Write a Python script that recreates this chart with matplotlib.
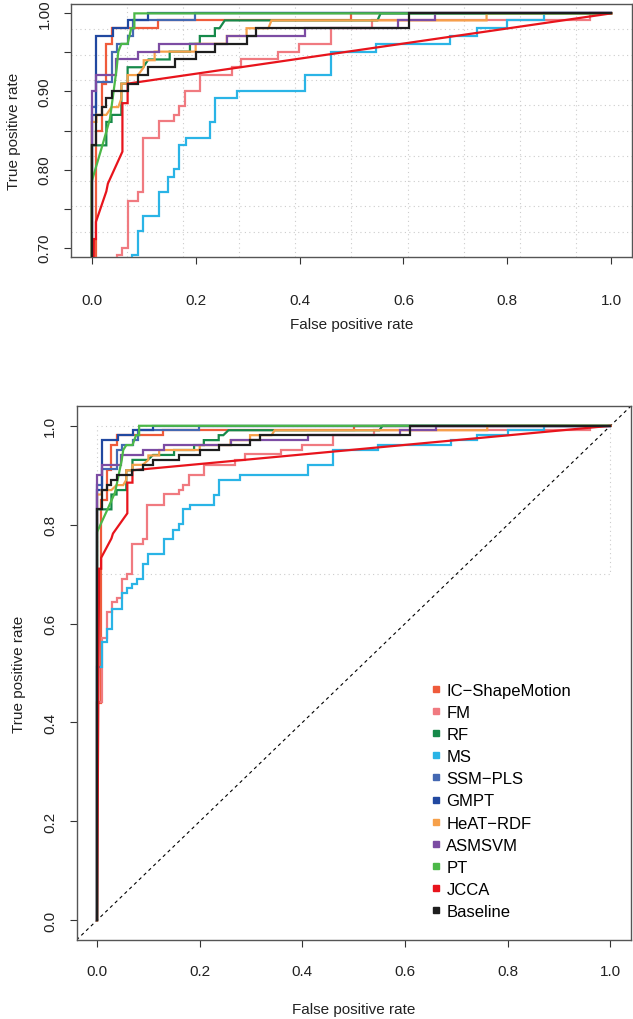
import matplotlib
matplotlib.use("Agg")
import matplotlib.pyplot as plt
from matplotlib.lines import Line2D
import numpy as np

plt.rcParams['font.family'] = ['Liberation Sans', 'DejaVu Sans']

# ROC vertices (FPR, TPR)
ic_shapemotion = [(0, 0), (0, 0.44), (0.008, 0.44), (0.008, 0.85), (0.019, 0.85), (0.019, 0.91),
                  (0.028, 0.91), (0.028, 0.961), (0.038, 0.961), (0.038, 0.981), (0.128, 0.981),
                  (0.128, 0.991), (0.5, 0.991), (0.5, 1.0), (1, 1)]
fm = [(0, 0), (0, 0.442), (0.01, 0.442), (0.01, 0.57), (0.019, 0.57), (0.019, 0.624), (0.029, 0.624),
      (0.029, 0.644), (0.039, 0.644), (0.039, 0.652), (0.049, 0.652), (0.049, 0.691), (0.058, 0.691),
      (0.058, 0.70), (0.069, 0.70), (0.069, 0.76), (0.089, 0.76), (0.089, 0.771), (0.098, 0.771),
      (0.098, 0.84), (0.13, 0.84), (0.13, 0.862), (0.159, 0.862), (0.159, 0.87), (0.168, 0.87),
      (0.168, 0.881), (0.179, 0.881), (0.179, 0.90), (0.208, 0.90), (0.208, 0.921), (0.269, 0.921),
      (0.269, 0.931), (0.288, 0.931), (0.288, 0.942), (0.359, 0.942), (0.359, 0.951), (0.399, 0.951),
      (0.399, 0.961), (0.46, 0.961), (0.46, 0.981), (0.539, 0.981), (0.539, 0.991), (0.96, 0.991),
      (0.96, 1.0), (1, 1)]
rf = [(0, 0), (0, 0.831), (0.028, 0.831), (0.028, 0.861), (0.038, 0.861), (0.038, 0.87), (0.057, 0.87),
      (0.057, 0.91), (0.069, 0.91), (0.069, 0.931), (0.099, 0.931), (0.109, 0.941), (0.15, 0.941),
      (0.15, 0.951), (0.189, 0.951), (0.189, 0.961), (0.208, 0.961), (0.208, 0.971), (0.237, 0.971),
      (0.237, 0.981), (0.246, 0.981), (0.256, 0.991), (0.55, 0.991), (0.556, 1.0), (1, 1)]
ms = [(0, 0), (0, 0.512), (0.01, 0.512), (0.01, 0.563), (0.019, 0.563), (0.019, 0.59), (0.029, 0.59),
      (0.029, 0.63), (0.049, 0.63), (0.049, 0.661), (0.058, 0.661), (0.058, 0.671), (0.068, 0.671),
      (0.068, 0.681), (0.078, 0.681), (0.078, 0.691), (0.089, 0.691), (0.089, 0.721), (0.099, 0.721),
      (0.099, 0.741), (0.13, 0.741), (0.13, 0.771), (0.147, 0.771), (0.147, 0.79), (0.159, 0.79),
      (0.159, 0.801), (0.168, 0.801), (0.168, 0.831), (0.182, 0.831), (0.182, 0.84), (0.227, 0.84),
      (0.227, 0.861), (0.237, 0.861), (0.237, 0.891), (0.279, 0.891), (0.279, 0.90), (0.41, 0.90),
      (0.41, 0.921), (0.46, 0.921), (0.46, 0.951), (0.548, 0.951), (0.548, 0.961), (0.69, 0.961),
      (0.69, 0.971), (0.741, 0.971), (0.741, 0.981), (0.80, 0.981), (0.80, 0.991), (0.87, 0.991),
      (0.87, 1.0), (1, 1)]
ssm_pls = [(0, 0), (0, 0.88), (0.009, 0.88), (0.009, 0.912), (0.038, 0.912), (0.038, 0.951),
           (0.048, 0.951), (0.048, 0.961), (0.07, 0.961), (0.07, 0.971), (0.08, 0.971), (0.08, 0.991),
           (0.198, 0.991), (0.198, 1.0), (1, 1)]
gmpt = [(0, 0), (0, 0.87), (0.009, 0.87), (0.009, 0.971), (0.041, 0.971), (0.041, 0.981), (0.07, 0.981),
        (0.07, 0.991), (0.109, 0.991), (0.109, 1.0), (1, 1)]
heat_rdf = [(0, 0), (0, 0.861), (0.009, 0.861), (0.009, 0.87), (0.028, 0.87), (0.038, 0.88), (0.051, 0.88),
            (0.057, 0.891), (0.057, 0.91), (0.069, 0.91), (0.069, 0.921), (0.089, 0.921), (0.1, 0.931),
            (0.1, 0.94), (0.121, 0.94), (0.121, 0.951), (0.2, 0.951), (0.2, 0.961), (0.26, 0.961),
            (0.26, 0.971), (0.298, 0.971), (0.298, 0.981), (0.34, 0.981), (0.346, 0.991), (0.76, 0.991),
            (0.76, 1.0), (1, 1)]
asmsvm = [(0, 0), (0, 0.90), (0.009, 0.90), (0.009, 0.921), (0.046, 0.921), (0.046, 0.941), (0.089, 0.941),
          (0.089, 0.951), (0.13, 0.951), (0.13, 0.961), (0.26, 0.961), (0.26, 0.971), (0.41, 0.971),
          (0.41, 0.981), (0.59, 0.981), (0.59, 0.991), (0.661, 0.991), (0.661, 1.0), (1, 1)]
pt = [(0, 0), (0, 0.785), (0.02, 0.83), (0.035, 0.865), (0.042, 0.9), (0.048, 0.93), (0.051, 0.951),
      (0.057, 0.961), (0.069, 0.961), (0.076, 0.981), (0.082, 0.981), (0.082, 1.0), (1, 1)]
jcca = [(0, 0), (0.004, 0.711), (0.008, 0.711), (0.008, 0.733), (0.028, 0.772), (0.031, 0.782),
        (0.059, 0.823), (0.059, 0.885), (0.069, 0.885), (0.069, 0.91), (1, 1)]
baseline = [(0, 0), (0, 0.831), (0.009, 0.831), (0.009, 0.87), (0.019, 0.87), (0.019, 0.88), (0.028, 0.88),
            (0.028, 0.891), (0.038, 0.891), (0.038, 0.901), (0.069, 0.901), (0.069, 0.91), (0.089, 0.91),
            (0.089, 0.921), (0.109, 0.921), (0.109, 0.931), (0.16, 0.931), (0.16, 0.941), (0.2, 0.941),
            (0.2, 0.951), (0.237, 0.951), (0.237, 0.961), (0.298, 0.961), (0.298, 0.971), (0.317, 0.971),
            (0.317, 0.981), (0.61, 0.981), (0.61, 1.0), (1, 1)]

names = ['IC\u2212ShapeMotion', 'FM', 'RF', 'MS', 'SSM\u2212PLS', 'GMPT', 'HeAT\u2212RDF',
         'ASMSVM', 'PT', 'JCCA', 'Baseline']
curves = [ic_shapemotion, fm, rf, ms, ssm_pls, gmpt, heat_rdf, asmsvm, pt, jcca, baseline]
colors = ['#ef5b3b', '#f07a80', '#16894a', '#2ab4e6', '#4468b2', '#2148a0', '#f6a04a',
          '#7c4ca3', '#4cb848', '#e8141c', '#1e1e1e']

xticks = [0.0, 0.2, 0.4, 0.6, 0.8, 1.0]
top_yticks = [0.70, 0.75, 0.80, 0.85, 0.90, 0.95, 1.00]
top_ylabels = ['0.70', '', '0.80', '', '0.90', '', '1.00']
bot_yticks = [0.0, 0.2, 0.4, 0.6, 0.8, 1.0]

W, H = 633, 1020
fig = plt.figure(figsize=(W / 100, H / 100), dpi=100)


def px_axes(l, t, r, b):
    return fig.add_axes([l / W, (H - b) / H, (r - l) / W, (b - t) / H])


def style(ax, ytk, ylab, xpad, xlabpad):
    for s in ax.spines.values():
        s.set_color('#555555')
        s.set_linewidth(1.0)
    ax.set_xticks(xticks)
    ax.set_xticklabels(['%.1f' % v for v in xticks])
    ax.set_yticks(ytk)
    ax.set_yticklabels(ylab, rotation=90, va='center')
    ax.tick_params(direction='out', length=5, width=0.8, color='#333333',
                   labelsize=11, labelcolor='#222222', pad=9)
    ax.tick_params(axis='x', pad=xpad)
    ax.set_xlabel('False positive rate', fontsize=11, color='#222222', labelpad=xlabpad)
    ax.set_ylabel('True positive rate', fontsize=11, color='#222222', labelpad=12)


def draw_curves(ax):
    for pts, c in zip(curves, colors):
        x, y = zip(*pts)
        ax.plot(x, y, color=c, lw=1.6, solid_joinstyle='miter', zorder=3)


# top panel: zoom on upper region
ax1 = px_axes(71, 5, 632, 258)
ax1.set_xlim(-0.04, 1.04)
ax1.set_ylim(0.688, 1.012)
for gx in np.linspace(-0.04, 1.04, 11)[1:-1]:
    ax1.axvline(gx, color='#cccccc', lw=0.8, ls=(0, (1, 3)), zorder=1)
for gy in np.linspace(0.688, 1.012, 11)[1:-1]:
    ax1.axhline(gy, color='#cccccc', lw=0.8, ls=(0, (1, 3)), zorder=1)
draw_curves(ax1)
style(ax1, top_yticks, top_ylabels, xpad=21, xlabpad=7)

# bottom panel: full ROC
ax2 = px_axes(76.5, 407, 631, 941)
ax2.set_xlim(-0.04, 1.04)
ax2.set_ylim(-0.04, 1.04)
ax2.plot([0, 1, 1, 0, 0], [0.7, 0.7, 1.0, 1.0, 0.7], color='#cccccc', lw=0.8, ls=(0, (1, 3)), zorder=1)
ax2.plot([-0.04, 1.04], [-0.04, 1.04], color='black', lw=0.8, ls=(0, (3, 3)), zorder=2)
draw_curves(ax2)
style(ax2, bot_yticks, ['%.1f' % v for v in bot_yticks], xpad=12.5, xlabpad=17)

handles = [Line2D([], [], marker='s', ls='none', color=c, markersize=5) for c in colors]
ax2.legend(handles, names, loc='upper left', bbox_to_anchor=(0.64, 0.482), frameon=False,
           fontsize=12, handlelength=0.6, handletextpad=0.3, labelspacing=0.43, borderpad=0,
           borderaxespad=0)

fig.savefig('out.png', dpi=100)
